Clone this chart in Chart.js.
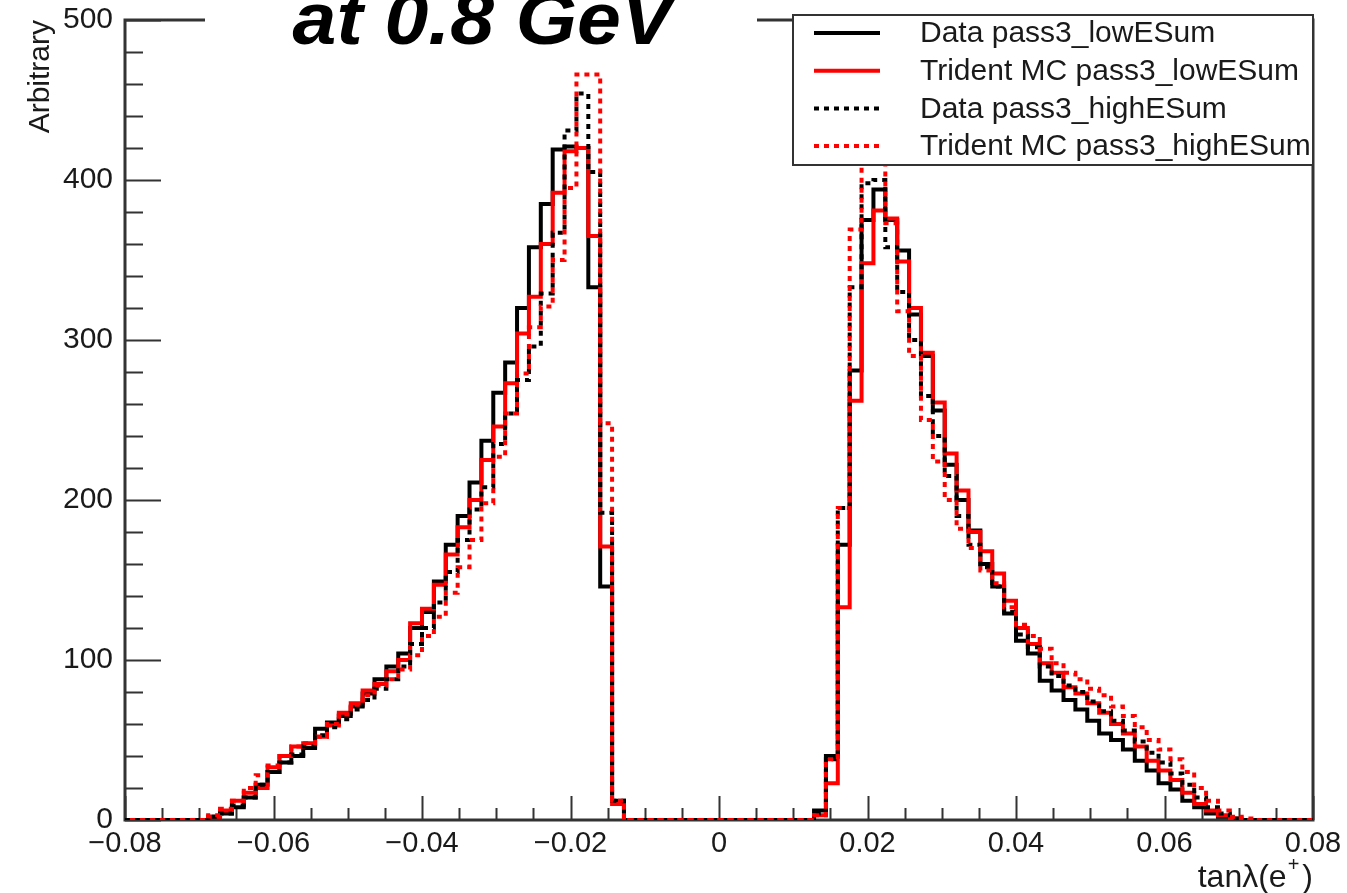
<!DOCTYPE html>
<html>
<head>
<meta charset="utf-8">
<script src="https://cdn.jsdelivr.net/npm/chart.js@4.4.1/dist/chart.umd.min.js"></script>
<style>
  html, body { margin: 0; padding: 0; background: #fff; }
  #wrap { position: relative; width: 1347px; height: 893px; }
</style>
</head>
<body>
<div id="wrap"><canvas id="c" width="1347" height="893"></canvas></div>
<script>
// ---- histogram definition ----
const xMin = -0.08;
const xMax = 0.08;
const nBins = 100;

// ---- series (bin contents, 100 bins from -0.08 to 0.08) ----
const dataLowESum = [
  0,0,0,0,0,0,0,
  2,4,8,14,22,30,36,40,45,57,61,65,71,79,88,96,104,120,130,149,172,190,211,237,267,286,320,358,385,419,421,420,333,146,12,
  0,0,0,0,0,0,0,0,0,0,0,0,0,0,0,0,
  6,40,172,281,375,394,375,356,316,290,256,222,200,181,160,146,129,112,104,87,81,75,69,62,54,50,44,37,31,23,19,12,8,4,2,
  0,0,0,0,0,0,0
];
const mcLowESum = [
  0,0,0,0,0,0,0,
  2,6,12,17,20,33,40,46,48,52,59,67,73,81,85,93,100,123,132,147,166,183,200,225,246,273,304,327,360,392,418,420,365,171,10,
  0,0,0,0,0,0,0,0,0,0,0,0,0,0,0,0,
  3,23,133,262,348,381,376,349,320,292,261,229,206,180,168,154,137,120,110,98,92,83,79,73,67,60,54,46,37,31,25,17,10,6,3,
  1,0,0,0,0,0,0
];
const dataHighESum = [
  0,0,0,0,0,0,0,
  2,4,9,14,22,30,36,41,46,53,58,63,69,75,82,88,96,110,120,136,155,175,194,208,235,254,275,296,329,367,431,454,405,192,12,
  0,0,0,0,0,0,0,0,0,0,0,0,0,0,0,0,
  4,38,195,333,398,400,358,330,300,265,240,215,190,172,158,146,130,116,108,96,90,84,80,74,68,62,56,49,42,36,29,22,14,8,4,
  1,0,0,0,0,0,0
];
const mcHighESum = [
  0,0,0,0,0,0,0,
  3,7,12,20,28,34,40,46,48,52,60,66,72,78,84,88,94,103,115,127,142,158,175,198,227,254,279,308,321,350,395,466,466,248,12,
  0,0,0,0,0,0,0,0,0,0,0,0,0,0,0,0,
  3,38,195,369,460,460,373,318,290,250,224,200,182,170,156,148,133,122,115,107,98,92,88,82,78,71,65,58,50,44,38,30,20,12,6,
  2,1,0,0,0,0,0
];

const seriesLabels = [
  'Data pass3_lowESum',
  'Trident MC pass3_lowESum',
  'Data pass3_highESum',
  'Trident MC pass3_highESum'
];

// ---- tick labels ----
const xTickValues = [-0.08, -0.06, -0.04, -0.02, 0, 0.02, 0.04, 0.06, 0.08];
const yTickValues = [0, 100, 200, 300, 400, 500];

const titleText = 'at 0.8 GeV';
const yTitle = 'Arbitrary';

// ---- build step-histogram points (left bin edges + closing right edge) ----
const binWidth = (xMax - xMin) / nBins;
function toPoints(vals) {
  const pts = vals.map((v, i) => ({ x: xMin + i * binWidth, y: v }));
  pts.push({ x: xMax, y: vals[vals.length - 1] });
  return pts;
}

const FONT = '"Liberation Sans", Arial, Helvetica, sans-serif';
const styles = [
  { color: '#000000', dash: [], offset: 0, order: 4 },
  { color: '#ff0000', dash: [], offset: 0, order: 3 },
  { color: '#000000', dash: [5, 5], offset: 0, order: 2 },
  { color: '#ff0000', dash: [5, 5], offset: 5, order: 1 }
];
const allSeries = [dataLowESum, mcLowESum, dataHighESum, mcHighESum];

const datasets = allSeries.map((vals, i) => ({
  label: seriesLabels[i],
  data: toPoints(vals),
  borderColor: styles[i].color,
  backgroundColor: styles[i].color,
  borderWidth: 4,
  borderDash: styles[i].dash,
  borderDashOffset: styles[i].offset,
  borderCapStyle: 'butt',
  borderJoinStyle: 'miter',
  stepped: true,
  pointRadius: 0,
  fill: false,
  order: styles[i].order
}));

function fmtX(v) {
  if (Math.abs(v) < 1e-9) return '0';
  const s = Math.abs(v).toFixed(2);
  return (v < 0 ? '\u2212' : '') + s;
}

const rootStyle = {
  id: 'rootStyle',
  beforeDatasetsDraw(chart) {
    const { ctx, chartArea: a, scales: { x, y } } = chart;
    ctx.save();
    ctx.strokeStyle = '#333';
    ctx.lineWidth = 2;
    ctx.beginPath();
    for (let k = 0; k < xTickValues.length; k++) {
      const v0 = xTickValues[k];
      const px = Math.round(x.getPixelForValue(v0)) + 0.5;
      ctx.moveTo(px, a.bottom); ctx.lineTo(px, a.bottom - 24);
      if (k < xTickValues.length - 1) {
        const step = (xTickValues[k + 1] - v0) / 4;
        for (let m = 1; m < 4; m++) {
          const pm = Math.round(x.getPixelForValue(v0 + m * step)) + 0.5;
          ctx.moveTo(pm, a.bottom); ctx.lineTo(pm, a.bottom - 12);
        }
      }
    }
    for (let k = 0; k < yTickValues.length; k++) {
      const v0 = yTickValues[k];
      const py = Math.round(y.getPixelForValue(v0)) + 0.5;
      ctx.moveTo(a.left, py); ctx.lineTo(a.left + 36, py);
      if (k < yTickValues.length - 1) {
        const step = (yTickValues[k + 1] - v0) / 5;
        for (let m = 1; m < 5; m++) {
          const pm = Math.round(y.getPixelForValue(v0 + m * step)) + 0.5;
          ctx.moveTo(a.left, pm); ctx.lineTo(a.left + 18, pm);
        }
      }
    }
    ctx.stroke();
    ctx.lineWidth = 3;
    ctx.strokeStyle = '#333';
    ctx.strokeRect(a.left, a.top, a.right - a.left, a.bottom - a.top);
    ctx.restore();
  },
  afterDraw(chart) {
    const { ctx, chartArea: a } = chart;
    ctx.save();
    // Title with white box
    ctx.fillStyle = '#ffffff';
    ctx.fillRect(205, 0, 552, 46);
    ctx.save();
    ctx.translate(483, 44);
    ctx.scale(1.05, 1);
    ctx.fillStyle = '#000';
    ctx.font = 'italic bold 75px ' + FONT;
    ctx.textAlign = 'center';
    ctx.textBaseline = 'alphabetic';
    ctx.fillText(titleText, 0, 0);
    ctx.restore();

    // Legend
    const lx = 793, ly = 15, lw = a.right - 793, lh = 150;
    ctx.fillStyle = '#fff';
    ctx.fillRect(lx, ly, lw, lh);
    ctx.strokeStyle = '#333';
    ctx.lineWidth = 2;
    ctx.strokeRect(lx, ly, lw, lh);
    ctx.font = '30px ' + FONT;
    ctx.textAlign = 'left';
    ctx.textBaseline = 'middle';
    for (let i = 0; i < 4; i++) {
      const cy = ly + 18 + i * 37.7;
      ctx.beginPath();
      ctx.strokeStyle = styles[i].color;
      ctx.lineWidth = 4;
      ctx.setLineDash(styles[i].dash);
      ctx.lineDashOffset = 0;
      ctx.moveTo(814, cy); ctx.lineTo(880, cy);
      ctx.stroke();
      ctx.setLineDash([]);
      ctx.fillStyle = '#1a1a1a';
      ctx.fillText(seriesLabels[i], 920, cy + 1);
    }

    // Y axis title
    ctx.save();
    ctx.translate(41, a.top);
    ctx.rotate(-Math.PI / 2);
    ctx.font = '30px ' + FONT;
    ctx.fillStyle = '#1a1a1a';
    ctx.textAlign = 'right';
    ctx.textBaseline = 'middle';
    ctx.fillText(yTitle, 0, 0);
    ctx.restore();

    // X axis title tanλ(e+)
    ctx.fillStyle = '#1a1a1a';
    ctx.textBaseline = 'alphabetic';
    ctx.textAlign = 'left';
    const big = '32px ' + FONT, small = '20px ' + FONT;
    ctx.font = big;
    const p1 = 'tan\u03BB(e', p3 = ')';
    const w1 = ctx.measureText(p1).width, w3 = ctx.measureText(p3).width;
    ctx.font = small;
    const w2 = ctx.measureText('+').width;
    const total = w1 + w2 + w3 + 4;
    let tx = a.right - total;
    const base = 887;
    ctx.font = big; ctx.fillText(p1, tx, base); tx += w1 + 1;
    ctx.font = small; ctx.fillText('+', tx, base - 16); tx += w2 + 3;
    ctx.font = big; ctx.fillText(p3, tx, base);
    ctx.restore();
  }
};

new Chart(document.getElementById('c'), {
  type: 'line',
  data: { datasets },
  options: {
    responsive: false,
    animation: false,
    events: [],
    layout: { padding: { top: 20, right: 34, left: 0, bottom: 0 } },
    plugins: { legend: { display: false }, tooltip: { enabled: false }, title: { display: false } },
    scales: {
      x: {
        type: 'linear',
        min: xMin,
        max: xMax,
        afterBuildTicks: (s) => { s.ticks = xTickValues.map(v => ({ value: v })); },
        afterFit: (s) => { s.height = 73; s.paddingLeft = 0; s.paddingRight = 0; },
        grid: { display: false, drawTicks: false },
        border: { display: false },
        ticks: {
          autoSkip: false, maxRotation: 0, minRotation: 0, padding: 7,
          color: '#1a1a1a', font: { family: FONT, size: 29 },
          callback: (v) => fmtX(v)
        }
      },
      y: {
        type: 'linear',
        min: 0,
        max: 500,
        afterBuildTicks: (s) => { s.ticks = yTickValues.map(v => ({ value: v })); },
        afterFit: (s) => { s.width = 125; s.paddingTop = 0; s.paddingBottom = 0; },
        grid: { display: false, drawTicks: false },
        border: { display: false },
        ticks: {
          autoSkip: false, padding: 12,
          color: '#1a1a1a', font: { family: FONT, size: 30 },
          callback: (v) => String(v)
        }
      }
    }
  },
  plugins: [rootStyle]
});
</script>
</body>
</html>
